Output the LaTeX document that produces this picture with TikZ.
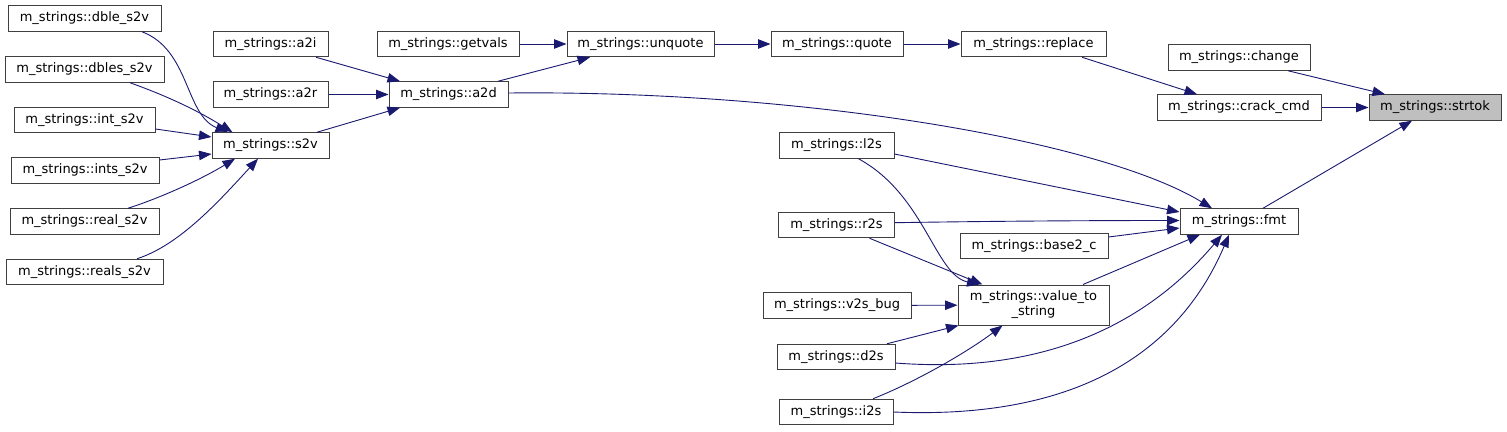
\documentclass[tikz,border=0pt]{standalone}
\usepackage{fontspec}
\setmainfont{DejaVu Sans}
\usetikzlibrary{arrows.meta}
\definecolor{boxline}{HTML}{404040}
\definecolor{edgeblue}{HTML}{191970}
\definecolor{rootgray}{HTML}{BFBFBF}
\begin{document}
\begin{tikzpicture}[x=1pt, y=-1pt,
    box/.style={draw=boxline, line width=1pt, fill=white, minimum height=25.5pt,
        inner xsep=2pt, inner ysep=0pt, align=center,
        font=\fontsize{13}{15}\selectfont},
    root/.style={box, fill=rootgray},
    edge/.style={draw=edgeblue, line width=0.9pt,
        -{Triangle[length=12.5pt, width=9.5pt]}}]
    % Fix the page to the size of the graph
    \useasboundingbox (0,0) rectangle (1507,431);

    % Callers of s2v (left column)
    \node[box, minimum width=153pt] (dble)  at (84.5,18.5) {m\_strings::dble\_s2v};
    \node[box, minimum width=159pt] (dbles) at (84.5,69.5) {m\_strings::dbles\_s2v};
    \node[box, minimum width=141pt] (int)   at (84.5,120)  {m\_strings::int\_s2v};
    \node[box, minimum width=148pt] (ints)  at (85,170.5)  {m\_strings::ints\_s2v};
    \node[box, minimum width=149pt] (real)  at (84.5,221.5) {m\_strings::real\_s2v};
    \node[box, minimum width=157pt] (reals) at (84.5,272)  {m\_strings::reals\_s2v};

    % Second column
    \node[box, minimum width=115pt] (a2i) at (270.5,44)   {m\_strings::a2i};
    \node[box, minimum width=115pt] (a2r) at (270.5,94.5) {m\_strings::a2r};
    \node[box, minimum width=117pt] (s2v) at (270.5,145.5) {m\_strings::s2v};

    % Top chain
    \node[box, minimum width=142pt] (getvals) at (448,44)    {m\_strings::getvals};
    \node[box, minimum width=119pt] (a2d)     at (448.5,94.5) {m\_strings::a2d};
    \node[box, minimum width=147pt] (unquote) at (640.5,44)  {m\_strings::unquote};
    \node[box, minimum width=132pt] (quote)   at (837,44)    {m\_strings::quote};
    \node[box, minimum width=145pt] (replace) at (1033.5,44) {m\_strings::replace};

    % Right part
    \node[box, minimum width=142pt] (change) at (1239,57.5)  {m\_strings::change};
    \node[box, minimum width=164pt] (crack)  at (1239,107.5) {m\_strings::crack\_cmd};
    \node[root, minimum width=132pt] (strtok) at (1435,107.5) {m\_strings::strtok};
    \node[box, minimum width=118pt] (fmt)    at (1239,221.5) {m\_strings::fmt};

    % Callers of fmt and value_to_string
    \node[box, minimum width=115pt] (l2s)  at (836.5,145.5) {m\_strings::l2s};
    \node[box, minimum width=116pt] (r2s)  at (836.5,225)   {m\_strings::r2s};
    \node[box, minimum width=148pt] (base) at (1034,246)    {m\_strings::base2\_c};
    \node[box, minimum width=148pt] (vbug) at (837,305.5)   {m\_strings::v2s\_bug};
    \node[box, minimum width=151pt, minimum height=40pt] (vtos) at (1033.5,305)
        {m\_strings::value\_to\\\_string};
    \node[box, minimum width=118pt] (d2s)  at (836,357)     {m\_strings::d2s};
    \node[box, minimum width=114pt] (i2s)  at (836,412)     {m\_strings::i2s};

    % Edges into s2v
    \draw[edge] ([xshift=57.5pt]dble.south) .. controls (190,50) and (185,115) .. ([xshift=-42.5pt]s2v.north);
    \draw[edge] ([xshift=45.5pt]dbles.south) .. controls (170,97) and (200,112) .. ([xshift=-38pt]s2v.north);
    \draw[edge] ([yshift=-9pt]int.east) -- ([yshift=8.5pt]s2v.west);
    \draw[edge] ([yshift=10.5pt]ints.east) -- ([yshift=-8.5pt]s2v.west);
    \draw[edge] ([xshift=43.5pt]real.north) .. controls (160,198) and (200,180) .. ([xshift=-35.5pt]s2v.south);
    \draw[edge] ([xshift=52.5pt]reals.north) .. controls (180,245) and (220,200) .. ([xshift=-12.5pt]s2v.south);

    % Edges into a2d and the top chain
    \draw[edge] ([xshift=45.5pt]a2i.south) -- ([xshift=-48.5pt]a2d.north);
    \draw[edge] (a2r) -- (a2d);
    \draw[edge] ([xshift=46.5pt]s2v.north) -- ([xshift=-48.5pt]a2d.south);
    \draw[edge] (getvals) -- (unquote);
    \draw[edge] ([xshift=49.5pt]a2d.north) -- ([xshift=-50.5pt]unquote.south);
    \draw[edge] (unquote) -- (quote);
    \draw[edge] (quote) -- (replace);
    \draw[edge] ([xshift=48.5pt]replace.south) -- ([xshift=-42pt]crack.north);

    % Edges into strtok
    \draw[edge] ([xshift=49pt]change.south) -- ([xshift=-50pt]strtok.north);
    \draw[edge] (crack) -- (strtok);
    \draw[edge] ([xshift=24pt]fmt.north) -- ([xshift=-23pt]strtok.south);

    % Edges into fmt
    \draw[edge] ([yshift=1.5pt]a2d.east) .. controls (800,90) and (1100,140) .. ([xshift=-27pt]fmt.north);
    \draw[edge] ([yshift=-8.5pt]l2s.east) -- ([yshift=9.5pt]fmt.west);
    \draw[edge] ([yshift=2.3pt]r2s.east) .. controls (1000,221) and (1100,220.5) .. ([yshift=1pt]fmt.west);
    \draw[edge] ([yshift=9pt]base.east) -- ([yshift=-6.5pt]fmt.west);
    \draw[edge] ([xshift=49.5pt]vtos.north) -- ([xshift=-39pt]fmt.south);
    \draw[edge] ([yshift=-6pt]d2s.east) .. controls (1050,375) and (1150,320) .. ([xshift=-17pt]fmt.south);
    \draw[edge] (i2s.east) .. controls (1080,420) and (1180,350) .. ([xshift=-10pt]fmt.south);

    % Edges into value_to_string
    \draw[edge] ([xshift=22pt]l2s.south) .. controls (925,195) and (935,275) .. ([xshift=-54pt]vtos.north);
    \draw[edge] ([xshift=33pt]r2s.south) -- ([xshift=-51pt]vtos.north);
    \draw[edge] (vbug) -- (vtos);
    \draw[edge] ([xshift=51pt]d2s.north) -- ([xshift=1pt]vtos.south west);
    \draw[edge] ([xshift=37pt]i2s.north) .. controls (920,380) and (970,350) .. ([xshift=-31pt]vtos.south);
\end{tikzpicture}
\end{document}
